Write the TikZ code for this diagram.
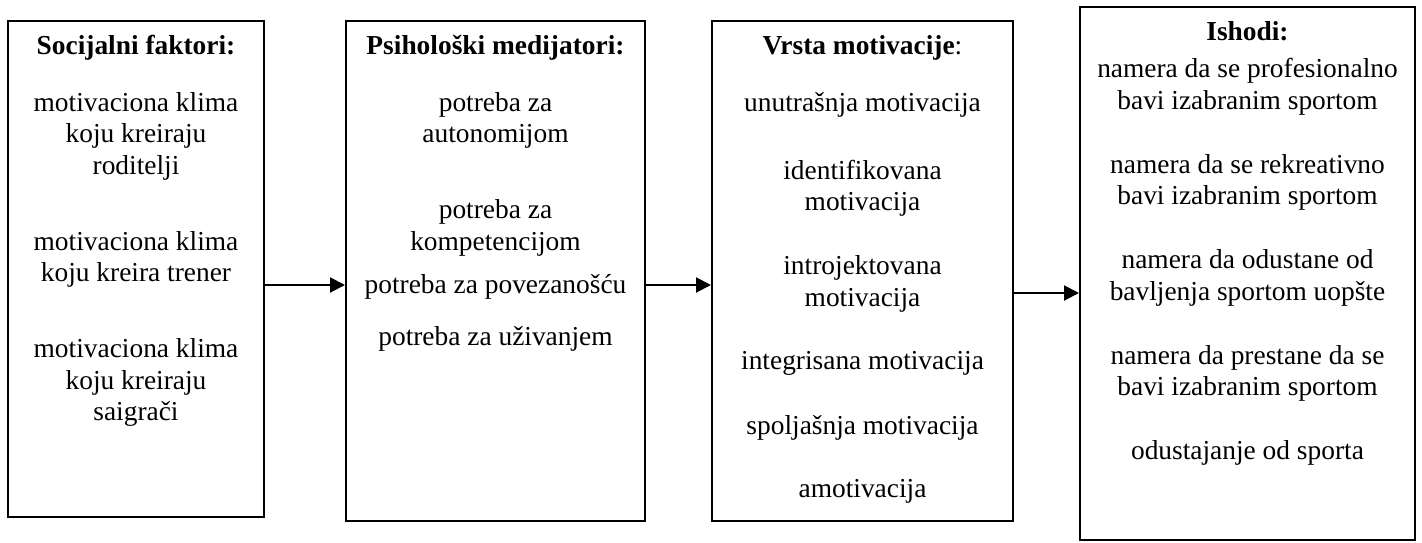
\documentclass[tikz,border=0pt]{standalone}
\usepackage{fontspec}
\setmainfont{Liberation Serif}
\usetikzlibrary{arrows.meta}
\begin{document}
\begin{tikzpicture}[x=1pt,y=-1pt,
  box/.style={draw=black,line width=2pt,minimum width=#1,inner sep=0pt},
  txt/.style={anchor=mid,inner sep=0pt,yshift=-5pt,font=\fontsize{27.4}{31.5}\selectfont},
  ttl/.style={txt,font=\fontsize{27.4}{31.5}\selectfont\bfseries},
  arr/.style={line width=2pt,-{Triangle[length=15pt,width=15pt]}}]
\useasboundingbox (0,0) rectangle (1422,542);
% boxes
\node[box=256pt,minimum height=496pt] (b1) at (136,269) {};
\node[box=299pt,minimum height=500pt] (b2) at (495.5,271) {};
\node[box=301pt,minimum height=500pt] (b3) at (862.5,271) {};
\node[box=335pt,minimum height=533pt] (b4) at (1247.5,273.5) {};
% box 1
\node[ttl] (t1) at (136,47) {Socijalni faktori:};
\node[txt] (a1) at (136,104) {motivaciona klima};
\node[txt] (a2) at (136,135) {koju kreiraju};
\node[txt] (a3) at (136,167) {roditelji};
\node[txt] (a4) at (136,243) {motivaciona klima};
\node[txt] (a5) at (136,274) {koju kreira trener};
\node[txt] (a6) at (136,350) {motivaciona klima};
\node[txt] (a7) at (136,382) {koju kreiraju};
\node[txt] (a8) at (136,413) {saigrači};
% box 2
\node[ttl] (t2) at (495.5,47) {Psihološki medijatori:};
\node[txt] (p1) at (495.5,104) {potreba za};
\node[txt] (p2) at (495.5,135) {autonomijom};
\node[txt] (p3) at (495.5,211) {potreba za};
\node[txt] (p4) at (495.5,243) {kompetencijom};
\node[txt] (p5) at (495.5,286) {potreba za povezanošću};
\node[txt] (p6) at (495.5,338) {potreba za uživanjem};
% box 3
\node[txt] (t3) at (862.5,47) {\textbf{Vrsta motivacije}:};
\node[txt] (v1) at (862.5,104) {unutrašnja motivacija};
\node[txt] (v2) at (862.5,172) {identifikovana};
\node[txt] (v3) at (862.5,203) {motivacija};
\node[txt] (v4) at (862.5,267) {introjektovana};
\node[txt] (v5) at (862.5,299) {motivacija};
\node[txt] (v6) at (862.5,362) {integrisana motivacija};
\node[txt] (v7) at (862.5,427) {spoljašnja motivacija};
\node[txt] (v8) at (862.5,490) {amotivacija};
% box 4
\node[ttl] (t4) at (1247.5,33) {Ishodi:};
\node[txt] (i1) at (1247.5,70) {namera da se profesionalno};
\node[txt] (i2) at (1247.5,102) {bavi izabranim sportom};
\node[txt] (i3) at (1247.5,166) {namera da se rekreativno};
\node[txt] (i4) at (1247.5,197) {bavi izabranim sportom};
\node[txt] (i5) at (1247.5,261) {namera da odustane od};
\node[txt] (i6) at (1247.5,293) {bavljenja sportom uopšte};
\node[txt] (i7) at (1247.5,357) {namera da prestane da se};
\node[txt] (i8) at (1247.5,388) {bavi izabranim sportom};
\node[txt] (i9) at (1247.5,452) {odustajanje od sporta};
% arrows
\coordinate (y1) at (0,285);
\coordinate (y3) at (0,293);
\draw[arr] (b1.east |- y1) -- (b2.west |- y1);
\draw[arr] (b2.east |- y1) -- (b3.west |- y1);
\draw[arr] (b3.east |- y3) -- (b4.west |- y3);
\end{tikzpicture}
\end{document}
